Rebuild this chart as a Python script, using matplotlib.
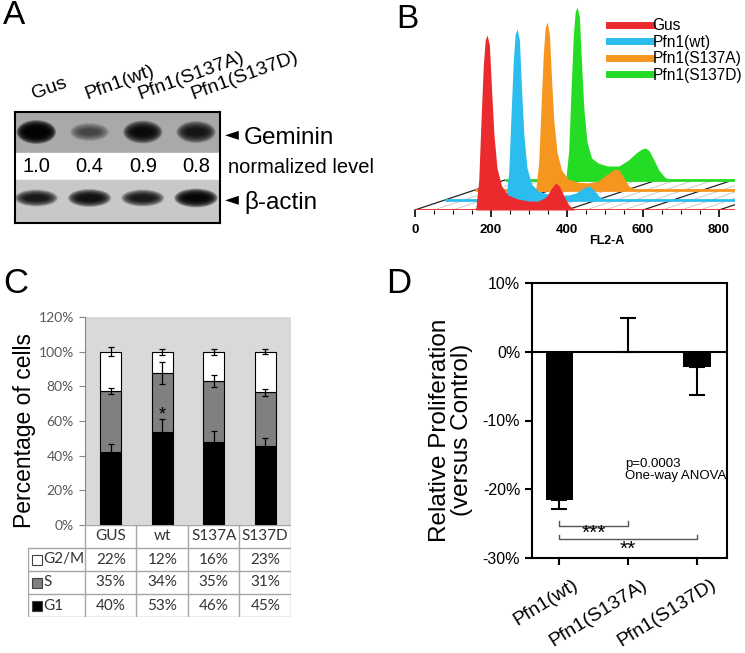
#!/usr/bin/env python3
"""Four-panel figure: blot (A), flow histograms (B), cell-cycle bars (C), proliferation (D)."""

import matplotlib

matplotlib.use('Agg')
import matplotlib.pyplot as plt
import numpy as np
from matplotlib.lines import Line2D
from matplotlib.patches import Ellipse
from matplotlib.transforms import ScaledTranslation

W, H = 745, 653
plt.rcParams['font.family'] = ['Liberation Sans', 'DejaVu Sans']

# --- A: western blot ---
lanes = ['Gus', 'Pfn1(wt)', 'Pfn1(S137A)', 'Pfn1(S137D)']
geminin_level = [1.0, 0.4, 0.9, 0.8]
actin_band = [0.9, 0.95, 0.9, 1.0]

# --- B: FL2-A histograms (x in FL2-A units, y in counts) ---
fl2_x = [160, 168, 174, 180, 185, 190, 196, 202, 208, 216, 228, 245, 270,
         300, 325, 345, 360, 370, 380, 392, 405, 420, 435]
hist_gus = [0, 30, 90, 145, 170, 175, 165, 118, 75, 42, 24, 15, 11,
            9, 9, 13, 22, 27, 24, 14, 5, 0, 0]
hist_wt = [0, 28, 85, 140, 166, 171, 160, 108, 64, 32, 16, 9, 6,
           5, 5, 7, 11, 13, 14, 10, 4, 0, 0]
hist_s137a = [0, 28, 83, 136, 163, 168, 156, 108, 68, 38, 20, 11, 8,
              7, 9, 15, 19, 21, 20, 12, 4, 1, 0]
hist_s137d = [0, 30, 90, 145, 168, 173, 163, 113, 70, 38, 22, 17, 14,
              14, 20, 27, 31, 32, 29, 20, 10, 3, 0]
hist_labels = ['Gus', 'Pfn1(wt)', 'Pfn1(S137A)', 'Pfn1(S137D)']
hist_colors = ['#ea2a2c', '#2bbdee', '#f7961f', '#25dc25']

# --- C: cell-cycle distribution ---
groups_c = ['GUS', 'wt', 'S137A', 'S137D']
g1_bar = [42.0, 53.7, 47.9, 45.6]
s_bar = [35.3, 34.0, 35.2, 31.1]
g1_err = [5.0, 7.5, 6.5, 4.4]
s_err = [1.9, 6.2, 3.6, 2.0]
g2_err = [2.6, 1.8, 1.8, 1.3]
tab_g2 = [22, 12, 16, 23]
tab_s = [35, 34, 35, 31]
tab_g1 = [40, 53, 46, 45]

# --- D: relative proliferation ---
groups_d = ['Pfn1(wt)', 'Pfn1(S137A)', 'Pfn1(S137D)']
prolif = [-21.5, 0.0, -2.2]
prolif_err = [1.4, 4.9, 4.1]

fig = plt.figure(figsize=(W / 100, H / 100), dpi=100)


def add_ax(l, t, r, b):
    return fig.add_axes([l / W, 1 - b / H, (r - l) / W, (b - t) / H])


def ftext(x, y, s, **kw):
    return fig.text(x / W, 1 - y / H, s, **kw)


def blot_band(ax, x, y, w, h, target, n=14):
    # soft band: stacked ellipses whose alphas add up to the target darkness
    a = 1 - (1 - target) ** (1 / n)
    for s in np.linspace(1.0, 0.3, n):
        ax.add_patch(Ellipse((x, y), w * s ** 0.6, h * s, color='black', alpha=a, lw=0))


# panel letters
for lx, ly, letter, fs in [(3, 24, 'A', 24), (396, 28, 'B', 24),
                           (3, 293, 'C', 25), (386, 293, 'D', 25)]:
    ftext(lx, ly, letter, fontsize=fs, va='baseline', ha='left')

# ---------------- A ----------------
axA = add_ax(15, 112, 220, 223)
axA.set_xlim(-0.4, 3.45)
axA.set_ylim(223, 112)
axA.axhspan(112, 153, color='#a9a9a9', zorder=0)
axA.axhspan(153, 180, color='white', zorder=0)
axA.axhspan(180, 223, color='#c8c8c8', zorder=0)
for i, lv in enumerate(geminin_level):
    blot_band(axA, i, 132, 0.74, 15 + 9 * lv, 0.98 * lv ** 0.6)
    axA.text(i, 167, f'{lv:.1f}', ha='center', va='center', fontsize=14.5)
for i, lv in enumerate(actin_band):
    blot_band(axA, i, 198, 0.82 * (0.9 + 0.1 * lv), 19 * lv, 0.95 * lv)
for i, name in enumerate(lanes):
    axA.text(i - 0.05, 99, name, rotation=20, rotation_mode='anchor',
             ha='left', va='baseline', fontsize=14)
axA.set_xticks([])
axA.set_yticks([])
for sp in axA.spines.values():
    sp.set_linewidth(1.5)

ftext(225, 134, '\u25c4', fontsize=13, va='center', ha='left',
      family=['DejaVu Sans'])
ftext(244, 138, 'Geminin', fontsize=17.5, va='center', ha='left')
ftext(228, 168, 'normalized level', fontsize=14.5, va='center', ha='left')
ftext(225, 199, '\u25c4', fontsize=13, va='center', ha='left',
      family=['DejaVu Sans'])
ftext(244, 203, '\u03b2-actin', fontsize=17.5, va='center', ha='left')

# ---------------- B ----------------
axB = add_ax(405, 0, 735, 210)
axB.set_xlim(-26, 842)
axB.set_ylim(0, 210)
DX = 30 * (842 + 26) / 330  # 30 px depth step, in FL2 units
DY = 10
for v in np.arange(0, 900, 50):
    major = v % 200 == 0
    axB.plot([v, v + 3 * DX], [0, 3 * DY], color='#222222' if major else '#c9c0c0',
             lw=0.9 if major else 0.6, zorder=1)
hists = [hist_gus, hist_wt, hist_s137a, hist_s137d]
for k in range(3, -1, -1):
    x = np.array(fl2_x) + k * DX
    y = np.array(hists[k]) + k * DY
    axB.fill_between(x, k * DY, y, color=hist_colors[k], lw=0, zorder=10 - 2 * k)
    axB.plot([k * DX, 1000], [k * DY, k * DY], color=hist_colors[k], lw=2,
             zorder=11 - 2 * k, solid_capstyle='butt')
for sp in axB.spines.values():
    sp.set_visible(False)
axB.set_yticks([])
axB.set_xticks([0, 200, 400, 600, 800])
axB.set_xticks(np.arange(0, 850, 50), minor=True)
axB.tick_params(axis='x', which='major', length=5, width=1.2, pad=5, labelsize=9.5)
axB.tick_params(axis='x', which='minor', length=3, width=0.8)
for t in axB.get_xticklabels():
    t.set_fontweight('bold')
ftext(607, 241, 'FL2-A', fontsize=9, fontweight='bold', ha='center', va='center')
handles = [Line2D([], [], color=c, lw=5) for c in hist_colors]
fig.legend(handles, hist_labels, loc='upper left', bbox_to_anchor=(609 / W, 1 - 18 / H),
           frameon=False, fontsize=11.2, handlelength=2.75, handletextpad=0.06,
           labelspacing=0.1, borderpad=0, borderaxespad=0)

# ---------------- C ----------------
cfont = ['Lato', 'DejaVu Sans']
axC = add_ax(85, 317, 291, 525)
axC.set_xlim(-0.5, 3.5)
axC.set_ylim(0, 120)
axC.set_facecolor('#d9d9d9')
xc = np.arange(len(groups_c))
g1 = np.array(g1_bar)
s = np.array(s_bar)
g2 = 100 - g1 - s
bw = 0.41
axC.bar(xc, g1, bw, color='black', edgecolor='black', lw=0.8, zorder=2)
axC.bar(xc, s, bw, bottom=g1, color='#808080', edgecolor='black', lw=0.8, zorder=2)
axC.bar(xc, g2, bw, bottom=g1 + s, color='white', edgecolor='black', lw=0.8, zorder=2)
ekw = dict(fmt='none', ecolor='black', elinewidth=0.9, capsize=2.5, capthick=0.9, zorder=3)
axC.errorbar(xc, g1, yerr=g1_err, **ekw)
axC.errorbar(xc, g1 + s, yerr=s_err, **ekw)
axC.errorbar(xc, g1 + s + g2, yerr=g2_err, **ekw)
axC.annotate('*', (1, g1[1] + g1_err[1]), xytext=(0, -3), textcoords='offset points',
             ha='center', va='bottom', fontsize=13)
axC.set_xticks([])
axC.set_yticks(np.arange(0, 121, 20))
axC.set_yticklabels([f'{v}%' for v in range(0, 121, 20)], family=cfont,
                    fontsize=10, color='#595959')
axC.tick_params(axis='y', length=4, color='#868686', pad=4)
for k in ['top', 'right', 'bottom']:
    axC.spines[k].set_visible(False)
axC.spines['left'].set_color('#868686')
ftext(24, 431, 'Percentage of cells', rotation=90, fontsize=16.5,
      ha='center', va='center')

# table under the bars
axT = add_ax(28, 525, 291, 617)
axT.set_xlim(-0.5 - (85 - 28) / 51.5, 3.5)
axT.set_ylim(4, 0)
axT.axis('off')
lc = '#a6a6a6'
x0 = axT.get_xlim()[0]
for xv in np.arange(-0.5, len(groups_c), 1.0):
    axT.plot([xv, xv], [0, 4], color=lc, lw=1)
axT.plot([x0, x0], [1, 4], color=lc, lw=1)
axT.plot([-0.5, 3.5], [0, 0], color=lc, lw=1)
for r in range(1, 5):
    axT.plot([x0, 3.5], [r, r], color=lc, lw=1)
tkw = dict(ha='center', va='center', family=cfont, fontsize=11, color='#333333')
for i, g in enumerate(groups_c):
    axT.text(i, 0.5, g, **tkw)
rows = [('G2/M', 'white', tab_g2), ('S', '#808080', tab_s), ('G1', 'black', tab_g1)]
for r, (name, col, vals) in enumerate(rows, start=1):
    axT.plot([x0 + 0.17], [r + 0.5], marker='s', ms=7, mfc=col, mec='#404040', mew=0.8)
    axT.text(x0 + 0.3, r + 0.5, name, ha='left', va='center', family=cfont,
             fontsize=11, color='#333333')
    for i, v in enumerate(vals):
        axT.text(i, r + 0.5, f'{v}%', **tkw)

# ---------------- D ----------------
axD = add_ax(532, 283, 727, 558)
xd = np.arange(len(groups_d))
axD.set_xlim(-0.4, 2.44)
axD.set_ylim(-30, 10)
axD.bar(xd, prolif, 0.4, color='black', zorder=2)
lower = [e if v < 0 else 0 for v, e in zip(prolif, prolif_err)]
upper = [e if v >= 0 else 0 for v, e in zip(prolif, prolif_err)]
axD.errorbar(xd, prolif, yerr=[lower, upper], fmt='none', ecolor='black',
             elinewidth=1.5, capsize=6, capthick=1.5, zorder=3)
axD.axhline(0, color='black', lw=1.5, zorder=4)
for sp in axD.spines.values():
    sp.set_linewidth(1.5)
axD.set_yticks([-30, -20, -10, 0, 10])
axD.set_yticklabels([f'{v}%' for v in [-30, -20, -10, 0, 10]], fontsize=11.5)
axD.set_xticks(xd)
axD.set_xticklabels(groups_d, rotation=32, ha='right', va='top',
                    rotation_mode='anchor', fontsize=14)
axD.tick_params(length=5, width=1.5)
axD.tick_params(axis='x', pad=8)
shift = ScaledTranslation(13 / 100, 0, fig.dpi_scale_trans)
for lbl in axD.get_xticklabels():
    lbl.set_transform(lbl.get_transform() + shift)
bc = '#555555'
axD.plot([0, 0, 1, 1], [-24.6, -25.3, -25.3, -24.6], color=bc, lw=1)
axD.text(0.5, -26.4, '***', ha='center', va='center', fontsize=15)
axD.plot([0, 0, 2, 2], [-26.6, -27.3, -27.3, -26.6], color=bc, lw=1)
axD.text(1.0, -28.7, '**', ha='center', va='center', fontsize=15)
axD.text(0.95, -17.2, 'p=0.0003\nOne-way ANOVA', ha='left', va='center',
         fontsize=9.5, linespacing=1.1)
ftext(451, 430, 'Relative Proliferation\n(versus Control)', rotation=90,
      fontsize=17.5, ha='center', va='center', multialignment='center', linespacing=1.05)

fig.savefig('out.png', dpi=100)
